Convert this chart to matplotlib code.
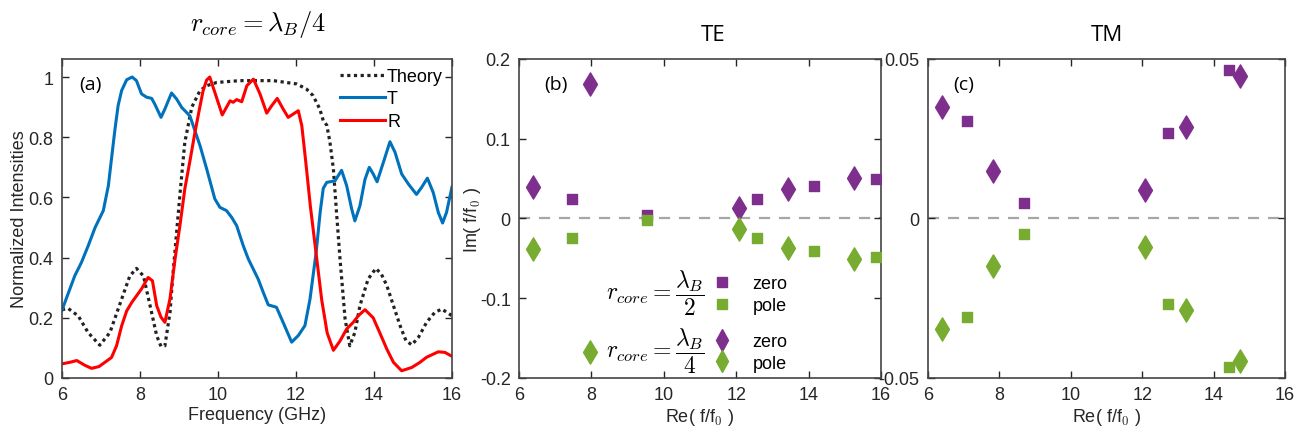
import matplotlib
matplotlib.use("Agg")
import matplotlib.pyplot as plt
from matplotlib.lines import Line2D

plt.rcParams["font.family"] = ["Liberation Sans", "DejaVu Sans"]
plt.rcParams["mathtext.fontset"] = "cm"

# ---- panel (a): measured spectra and theory ----
t_freq = [6.0, 6.33, 6.5, 6.675, 6.85, 7.06, 7.19, 7.27, 7.36, 7.44, 7.53, 7.66, 7.8, 7.91,
          8.04, 8.17, 8.3, 8.38, 8.54, 8.64, 8.81, 8.94, 9.07, 9.28, 9.54, 9.71, 9.92, 10.05,
          10.22, 10.35, 10.48, 10.65, 10.78, 11.03, 11.16, 11.29, 11.5, 11.67, 11.89, 12.06,
          12.23, 12.36, 12.52, 12.62, 12.7, 12.79, 13.0, 13.17, 13.3, 13.43, 13.51, 13.64,
          13.77, 13.88, 13.98, 14.08, 14.24, 14.41, 14.54, 14.71, 14.88, 15.09, 15.22, 15.37,
          15.52, 15.65, 15.76, 15.86, 16.0]
t_val = [0.225, 0.34, 0.384, 0.44, 0.50, 0.556, 0.639, 0.728, 0.827, 0.905, 0.955, 0.991,
         1.0, 0.988, 0.944, 0.933, 0.929, 0.91, 0.866, 0.894, 0.947, 0.927, 0.899, 0.871,
         0.772, 0.695, 0.595, 0.567, 0.556, 0.534, 0.506, 0.439, 0.395, 0.329, 0.285, 0.243,
         0.235, 0.185, 0.119, 0.141, 0.174, 0.262, 0.42, 0.55, 0.63, 0.65, 0.655, 0.69,
         0.639, 0.561, 0.522, 0.572, 0.66, 0.70, 0.678, 0.652, 0.716, 0.785, 0.75, 0.678,
         0.645, 0.61, 0.633, 0.664, 0.616, 0.55, 0.515, 0.55, 0.634]

r_freq = [6.0, 6.2, 6.38, 6.59, 6.76, 6.95, 7.1, 7.27, 7.4, 7.53, 7.66, 7.79, 8.04, 8.21,
          8.32, 8.43, 8.54, 8.64, 8.77, 8.9, 9.03, 9.15, 9.28, 9.41, 9.52, 9.62, 9.71, 9.79,
          9.92, 10.11, 10.31, 10.39, 10.48, 10.61, 10.74, 10.91, 11.08, 11.25, 11.38, 11.52,
          11.67, 11.8, 12.06, 12.15, 12.25, 12.37, 12.52, 12.66, 12.8, 12.96, 13.13, 13.3,
          13.47, 13.6, 13.77, 13.98, 14.15, 14.33, 14.5, 14.71, 14.97, 15.18, 15.35, 15.65,
          15.82, 16.0]
r_val = [0.047, 0.052, 0.058, 0.042, 0.032, 0.038, 0.052, 0.068, 0.107, 0.173, 0.223, 0.251,
         0.296, 0.334, 0.323, 0.24, 0.202, 0.185, 0.263, 0.395, 0.511, 0.628, 0.72, 0.816,
         0.89, 0.955, 0.99, 1.0, 0.949, 0.874, 0.921, 0.916, 0.925, 0.918, 0.971, 0.993,
         0.943, 0.88, 0.905, 0.929, 0.894, 0.866, 0.888, 0.838, 0.72, 0.57, 0.41, 0.26, 0.15,
         0.092, 0.123, 0.163, 0.185, 0.207, 0.227, 0.2, 0.15, 0.096, 0.052, 0.024, 0.035,
         0.052, 0.069, 0.087, 0.085, 0.072]

th_freq = [6.0, 6.16, 6.42, 6.67, 6.97, 7.23, 7.53, 7.74, 7.91, 8.09, 8.26, 8.43, 8.54, 8.64,
           8.77, 8.85, 9.03, 9.15, 9.33, 9.54, 9.71, 9.97, 10.56, 11.42, 12.02, 12.27, 12.44,
           12.61, 12.7, 12.79, 12.87, 12.96, 13.04, 13.13, 13.26, 13.38, 13.51, 13.64, 13.85,
           14.05, 14.19, 14.33, 14.5, 14.67, 14.82, 14.97, 15.14, 15.35, 15.56, 15.74, 16.0]
th_val = [0.227, 0.231, 0.206, 0.151, 0.109, 0.151, 0.262, 0.339, 0.364, 0.339, 0.24, 0.14,
          0.105, 0.107, 0.218, 0.351, 0.617, 0.783, 0.9, 0.955, 0.971, 0.982, 0.988, 0.988,
          0.977, 0.96, 0.938, 0.894, 0.855, 0.84, 0.785, 0.694, 0.55, 0.395, 0.196, 0.107,
          0.151, 0.24, 0.329, 0.364, 0.345, 0.307, 0.24, 0.174, 0.124, 0.11, 0.135, 0.185,
          0.218, 0.229, 0.207]

# ---- panel (b): TE zeros / poles ----
te_sq_re = [7.46, 9.53, 12.56, 14.14, 15.87]
te_sq_zero = [0.025, 0.004, 0.025, 0.041, 0.049]
te_sq_pole = [-0.025, -0.002, -0.025, -0.041, -0.0486]
te_di_re = [6.40, 7.95, 12.09, 13.44, 15.24]
te_di_zero = [0.039, 0.169, 0.013, 0.037, 0.051]
te_di_pole = [-0.0385, -0.168, -0.0126, -0.037, -0.051]

# ---- panel (c): TM zeros / poles ----
tm_sq_re = [7.08, 8.69, 12.72, 14.43]
tm_sq_zero = [0.0307, 0.005, 0.0267, 0.0466]
tm_sq_pole = [-0.031, -0.005, -0.0269, -0.0467]
tm_di_re = [6.39, 7.81, 12.08, 13.24, 14.75]
tm_di_zero = [0.0348, 0.015, 0.009, 0.0288, 0.0447]
tm_di_pole = [-0.0348, -0.015, -0.009, -0.0288, -0.0446]

purple = "#7E2F8E"
green = "#77AC30"
axcol = "#262626"
fs = 13
lab_font = ["Open Sans", "DejaVu Sans"]

fig = plt.figure(figsize=(13.07, 4.39), dpi=100)
axa = fig.add_axes([0.0474, 0.1367, 0.2984, 0.7267])
axb = fig.add_axes([0.3971, 0.1367, 0.2770, 0.7267])
axc = fig.add_axes([0.7100, 0.1367, 0.2732, 0.7267])

for ax in (axa, axb, axc):
    ax.tick_params(direction="in", top=True, right=True, labelsize=fs, colors=axcol,
                   length=5, width=1, pad=6)
    for s in ax.spines.values():
        s.set_color("#444444")
        s.set_linewidth(1.2)
    ax.set_xlim(6, 16)
    ax.set_xticks([6, 8, 10, 12, 14, 16])

# panel (a)
axa.plot(th_freq, th_val, ls=(0, (1, 1.1)), color="#222222", lw=2.3, label="Theory")
axa.plot(t_freq, t_val, color="#0072BD", lw=2.2, label="T")
axa.plot(r_freq, r_val, color="#FF0000", lw=2.2, label="R")
axa.set_ylim(0, 1.06)
axa.set_yticks([0, 0.2, 0.4, 0.6, 0.8, 1])
axa.set_yticklabels(["0", "0.2", "0.4", "0.6", "0.8", "1"])
axa.set_xlabel("Frequency (GHz)", fontsize=fs, color=axcol, labelpad=2)
axa.set_ylabel("Normalized Intensities", fontsize=fs, color=axcol, labelpad=0)
axa.legend(loc="upper right", frameon=False, fontsize=fs, handlelength=2.5,
           handletextpad=0.1, labelspacing=0.3, borderaxespad=0.1,
           bbox_to_anchor=(1.0, 1.0))
axa.text(0.045, 0.95, "(a)", transform=axa.transAxes, fontsize=14, va="top",
         family=lab_font)
fig.text(0.197, 0.945, r"$r_{core} = \lambda_B/4$", fontsize=19, ha="center", va="center")

# panel (b)
axb.axhline(0, color="#A6A6A6", ls=(0, (5, 4)), lw=1.6, zorder=1)
axb.scatter(te_sq_re, te_sq_zero, marker="s", s=50, color=purple, zorder=3)
axb.scatter(te_sq_re, te_sq_pole, marker="s", s=50, color=green, zorder=3)
axb.scatter(te_di_re, te_di_zero, marker="d", s=140, color=purple, zorder=3)
axb.scatter(te_di_re, te_di_pole, marker="d", s=140, color=green, zorder=3)
axb.set_ylim(-0.2, 0.2)
axb.set_yticks([-0.2, -0.1, 0, 0.1, 0.2])
axb.set_yticklabels(["-0.2", "-0.1", "0", "0.1", "0.2"])
axb.set_xlabel(r"Re( f/f$_0$ )", fontsize=fs, color=axcol, labelpad=2)
axb.set_ylabel(r"Im( f/f$_0$ )", fontsize=fs, color=axcol, labelpad=-2)
axb.text(0.07, 0.95, "(b)", transform=axb.transAxes, fontsize=14, va="top",
         family=lab_font)
axb.set_title("TE", fontsize=16, pad=14, x=0.535, family=lab_font)

sq_h = [Line2D([], [], ls="", marker="s", ms=7, color=purple),
        Line2D([], [], ls="", marker="s", ms=7, color=green)]
di_h = [Line2D([], [], ls="", marker="d", ms=11, color=purple),
        Line2D([], [], ls="", marker="d", ms=11, color=green)]
leg1 = axb.legend(sq_h, ["zero", "pole"], frameon=False, fontsize=fs, loc="center left",
                  bbox_to_anchor=(0.465, 0.261), handletextpad=0.7, labelspacing=0.25)
axb.add_artist(leg1)
axb.legend(di_h, ["zero", "pole"], frameon=False, fontsize=fs, loc="center left",
           bbox_to_anchor=(0.465, 0.080), handletextpad=0.7, labelspacing=0.25)
axb.text(0.514, 0.27, r"$r_{core} = \dfrac{\lambda_B}{2}$", transform=axb.transAxes,
         fontsize=17, ha="right", va="center")
axb.text(0.514, 0.088, r"$r_{core} = \dfrac{\lambda_B}{4}$", transform=axb.transAxes,
         fontsize=17, ha="right", va="center")

# panel (c)
axc.axhline(0, color="#A6A6A6", ls=(0, (5, 4)), lw=1.6, zorder=1)
axc.scatter(tm_sq_re, tm_sq_zero, marker="s", s=50, color=purple, zorder=3)
axc.scatter(tm_sq_re, tm_sq_pole, marker="s", s=50, color=green, zorder=3)
axc.scatter(tm_di_re, tm_di_zero, marker="d", s=140, color=purple, zorder=3)
axc.scatter(tm_di_re, tm_di_pole, marker="d", s=140, color=green, zorder=3)
axc.set_ylim(-0.05, 0.05)
axc.set_yticks([-0.05, 0, 0.05])
axc.set_yticklabels(["-0.05", "0", "0.05"])
axc.set_xlabel(r"Re( f/f$_0$ )", fontsize=fs, color=axcol, labelpad=2)
axc.text(0.07, 0.95, "(c)", transform=axc.transAxes, fontsize=14, va="top",
         family=lab_font)
axc.set_title("TM", fontsize=16, pad=14, family=lab_font)

fig.savefig("out.png", dpi=100)
